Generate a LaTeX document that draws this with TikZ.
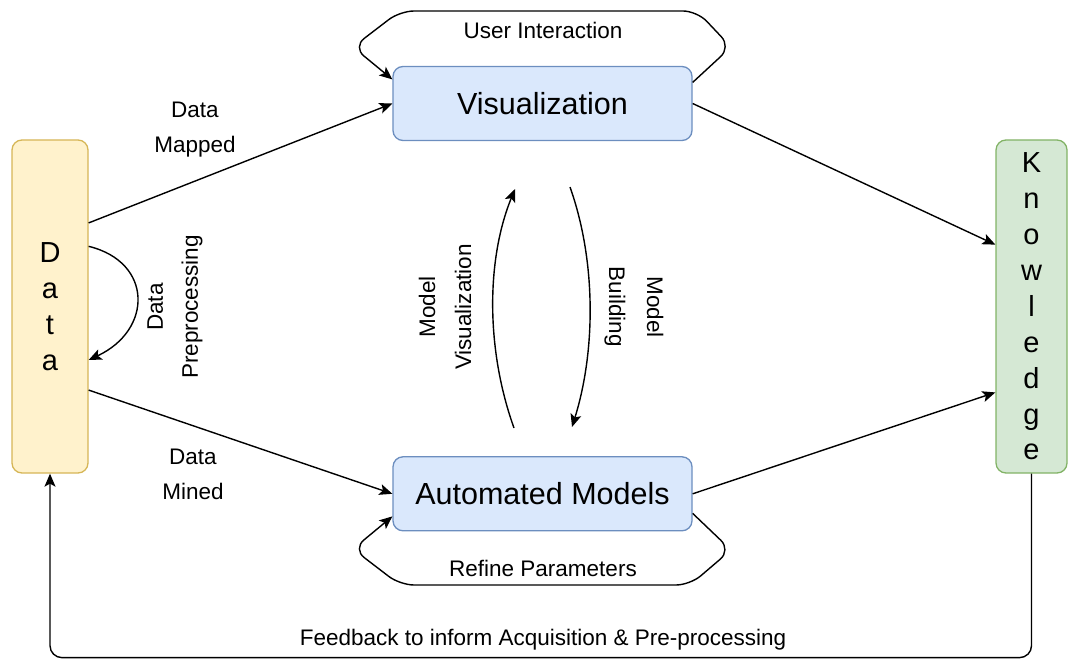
\documentclass[tikz,border=0pt]{standalone}
\usepackage{fontspec}
\setmainfont{Liberation Sans}
\usepackage{xcolor}
\usepackage{tikz}
\usetikzlibrary{positioning, calc, arrows.meta}
\definecolor{visfill}{HTML}{DAE8FC}
\definecolor{visline}{HTML}{6C8EBF}
\definecolor{datafill}{HTML}{FFF2CC}
\definecolor{dataline}{HTML}{D6B656}
\definecolor{knowfill}{HTML}{D5E8D4}
\definecolor{knowline}{HTML}{82B366}

\begin{document}
\begin{tikzpicture}[
    x=1pt, y=-1pt,
    >={Stealth[length=13pt, width=11pt, inset=3pt]},
    % Styles
    stage/.style={draw=visline, fill=visfill, rounded corners=10pt,
        line width=1.3pt, minimum width=299pt, minimum height=74pt,
        font=\fontsize{30.5}{36}\selectfont},
    source/.style={draw=dataline, fill=datafill, rounded corners=10pt,
        line width=1.3pt, minimum width=76pt, minimum height=333pt,
        align=center, font=\fontsize{29}{36}\selectfont},
    result/.style={draw=knowline, fill=knowfill, rounded corners=10pt,
        line width=1.3pt, minimum width=71pt, minimum height=333pt,
        align=center, font=\fontsize{29}{35.9}\selectfont},
    lbl/.style={align=center, font=\fontsize{22.5}{35}\selectfont},
    arr/.style={->, line width=1.4pt},
]
\useasboundingbox (0,0) rectangle (1068,660);

% ===== Boxes =====
\node[source] (data) at (50,306.5) {D\\a\\t\\a};
\node[result] (know) at (1031.5,306.5) {K\\n\\o\\w\\l\\e\\d\\g\\e};
\node[stage] (vis) at (542.5,103.5) {Visualization};
\node[stage, below=315pt of vis] (auto) {Automated Models};

% ===== Data to the two stages =====
\draw[arr] ($(data.north east)!0.25!(data.south east)$) -- (vis.west);
\node[lbl] (mapped) at (195,130) {Data\\Mapped};

\draw[arr] ($(data.north east)!0.75!(data.south east)$) -- (auto.west);
\node[lbl] (mined) at (193,474) {Data\\Mined};

% Preprocessing loop on Data
\coordinate (dp1) at ($(data.north east)!0.32!(data.south east)$);
\coordinate (dp2) at ($(data.north east)!0.66!(data.south east)$);
\draw[arr] (dp1) .. controls (153,262) and (153,330) .. (dp2);
\node[lbl, rotate=90] (prep) at (175,307) {Data\\Preprocessing};

% ===== Stages to Knowledge =====
\draw[arr] (vis.east) -- ($(know.north west)!0.315!(know.south west)$);
\draw[arr] (auto.east) -- ($(know.north west)!0.757!(know.south west)$);

% ===== Between the stages =====
\coordinate (mv1) at (514,428);
\coordinate (mv2) at (515,189);
\draw[arr] (mv1) .. controls (486,350) and (486,260) .. (mv2);
\node[lbl, rotate=90, font=\fontsize{22.5}{36}\selectfont] (mvis) at (445,307) {Model\\Visualization};

\coordinate (mb1) at (570,187);
\coordinate (mb2) at (572,427);
\draw[arr] (mb1) .. controls (596,260) and (596,350) .. (mb2);
\node[lbl, rotate=-90, font=\fontsize{22.5}{38}\selectfont] (mbuild) at (634,307) {Model\\Building};

% ===== Self loops =====
\coordinate (ui1) at ($(vis.north east)!0.22!(vis.south east)$);
\coordinate (ui2) at ($(vis.north west)!0.18!(vis.south west)$);
\draw[arr, rounded corners=14pt] (ui1) -- (731,47) -- (697,11) -- (400,11)
    -- (353,47) -- (ui2);
\node[lbl] (user) at (543,30) {User Interaction};

\coordinate (rp1) at ($(auto.north east)!0.76!(auto.south east)$);
\coordinate (rp2) at ($(auto.north west)!0.80!(auto.south west)$);
\draw[arr, rounded corners=14pt] (rp1) -- (731,550) -- (690,585) -- (400,585)
    -- (353,549) -- (rp2);
\node[lbl] (refine) at (543,568) {Refine Parameters};

% ===== Feedback =====
\draw[arr, rounded corners=12pt] (know.south) -- ++(0,184) -| (data.south);
\node[lbl] (feedback) at (543,640) {Feedback to inform Acquisition \& Pre-processing};

\end{tikzpicture}
\end{document}
